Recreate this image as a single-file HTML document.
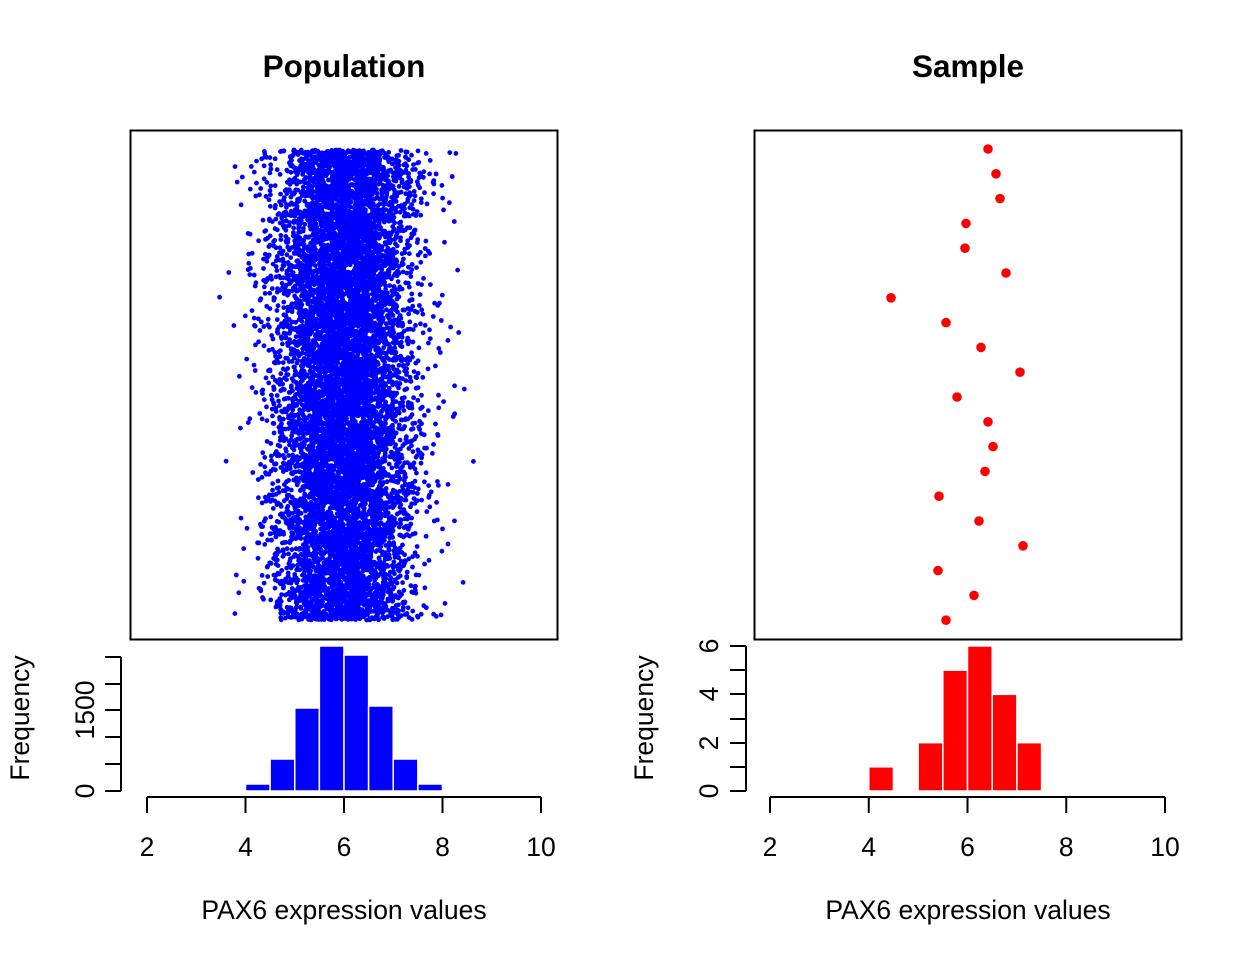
<!DOCTYPE html>
<html><head><meta charset="utf-8"><style>
html,body{margin:0;padding:0;background:#fff;}
svg{display:block;font-family:"Liberation Sans",Arial,sans-serif;}
</style></head><body>
<svg id="s" width="1248" height="960" viewBox="0 0 1248 960" xmlns="http://www.w3.org/2000/svg">
<rect width="1248" height="960" fill="#fff"/>
<text x="344" y="77" font-size="31.5" font-weight="bold" text-anchor="middle">Population</text>
<text x="968" y="77" font-size="31.5" font-weight="bold" text-anchor="middle">Sample</text>
<g id="pop"></g>
<rect x="130.5" y="130.5" width="427" height="509" fill="none" stroke="#000" stroke-width="2"/>
<rect x="754.5" y="130.5" width="427" height="509" fill="none" stroke="#000" stroke-width="2"/>
<g id="samp" fill="#ff0000"></g>
<g id="hist"></g>
<g stroke="#000" stroke-width="2" fill="none">
<path d="M147 797H541M147 797v16M245.5 797v16M344 797v16M442.5 797v16M541 797v16"/>
<path d="M121 791V657M121 791h-16M121 764h-16M121 737h-16M121 710h-16M121 684h-16M121 657h-16"/>
<path d="M770 797H1165M770 797v16M868.75 797v16M967.5 797v16M1066.25 797v16M1165 797v16"/>
<path d="M746 791V646M746 791h-16M746 767h-16M746 743h-16M746 719h-16M746 694h-16M746 670h-16M746 646h-16"/>
</g>
<g font-size="26.5" text-anchor="middle">
<text x="147" y="856">2</text><text x="245.5" y="856">4</text><text x="344" y="856">6</text><text x="442.5" y="856">8</text><text x="541" y="856">10</text>
<text x="770" y="856">2</text><text x="868.75" y="856">4</text><text x="967.5" y="856">6</text><text x="1066.25" y="856">8</text><text x="1165" y="856">10</text>
<text x="344" y="919">PAX6 expression values</text>
<text x="968" y="919">PAX6 expression values</text>
<text transform="translate(94,791) rotate(-90)">0</text>
<text transform="translate(94,710) rotate(-90)">1500</text>
<text transform="translate(718,791) rotate(-90)">0</text>
<text transform="translate(718,743) rotate(-90)">2</text>
<text transform="translate(718,694) rotate(-90)">4</text>
<text transform="translate(718,646) rotate(-90)">6</text>
<text transform="translate(29,718) rotate(-90)">Frequency</text>
<text transform="translate(653,718) rotate(-90)">Frequency</text>
</g>
</svg>
<script>
(function(){
var NS="http://www.w3.org/2000/svg";
function el(p,t,a){var e=document.createElementNS(NS,t);for(var k in a)e.setAttribute(k,a[k]);p.appendChild(e);return e;}
var s=987654321;function r(){s^=s<<13;s>>>=0;s^=s>>>17;s^=s<<5;s>>>=0;return s/4294967296;}
function n(){var u=r()||1e-9,v=r();return Math.sqrt(-2*Math.log(u))*Math.cos(2*Math.PI*v);}
var pop=document.getElementById('pop');var d="";
for(var i=0;i<10000;i++){var x=6+0.7*n();if(x<3.4||x>8.8)continue;var px=147+(x-2)*49.25;var py=150+r()*470;
d+="M"+(px-2.4).toFixed(1)+" "+py.toFixed(1)+"a2.4 2.4 0 1 0 4.8 0a2.4 2.4 0 1 0 -4.8 0";}
el(pop,'path',{d:d,fill:'#0000ff'});
var sx=[988,996,1000,966,965,1006,891,946,981,1020,957,988,993,985,939,979,1023,938,974,946];
var sg=document.getElementById('samp');
for(var j=0;j<20;j++)el(sg,'circle',{cx:sx[j],cy:149+j*24.8,r:4.8});
var h=document.getElementById('hist');
var tops=[784,759,708,646,655,706,759,784];
for(var k=0;k<8;k++){var x0=147+(4+k*0.5-2)*49.25;el(h,'rect',{x:x0,y:tops[k],width:24.6,height:791-tops[k],fill:'#0000ff',stroke:'#fff','stroke-width':1.5});}
var c=[[4,1],[5,2],[5.5,5],[6,6],[6.5,4],[7,2]];
for(var m=0;m<c.length;m++){var x1=770+(c[m][0]-2)*49.375;var hh=c[m][1]*24.17;el(h,'rect',{x:x1,y:791-hh,width:24.7,height:hh,fill:'#ff0000',stroke:'#fff','stroke-width':1.5});}
})();
</script>
</body></html>
